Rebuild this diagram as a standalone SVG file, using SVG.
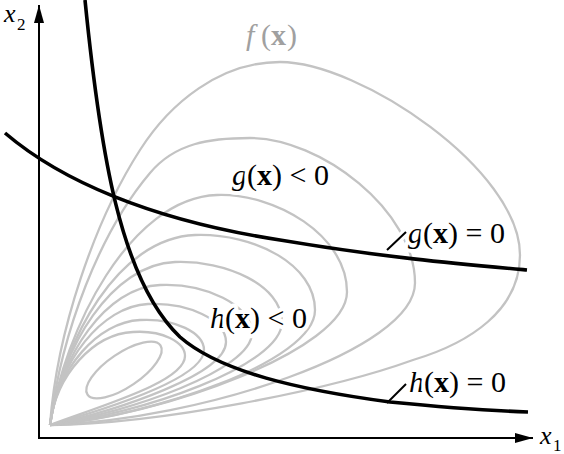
<svg xmlns="http://www.w3.org/2000/svg" width="564" height="454" viewBox="0 0 564 454">
<style>
.ct{fill:none;stroke:#c3c3c3;stroke-width:2.3}
.cv{fill:none;stroke:#000;stroke-width:3.6}
.ax{fill:none;stroke:#000;stroke-width:2}
.ld{fill:none;stroke:#000;stroke-width:2}
.ldh{fill:none;stroke:#fff;stroke-width:8}
.lb{font-family:"Liberation Serif","Times New Roman",serif;font-size:30px;fill:#000;stroke:#fff;stroke-width:8;stroke-linejoin:round;paint-order:stroke}
.axl{font-family:"Liberation Serif","Times New Roman",serif;fill:#000}
.it{font-style:italic}
.bf{font-weight:bold}
</style>
<defs>
<marker id="arr" markerUnits="userSpaceOnUse" markerWidth="18" markerHeight="10" viewBox="0 0 18 10" refX="18" refY="5" orient="auto"><path d="M0,0 L18,5 L0,10 z" fill="#000"/></marker>
</defs>
<rect width="564" height="454" fill="#fff"/>
<g id="contours">
<path id="c1" class="ct" d="M50,425 C57,330 95,220 140,150 C170,103 220,62 280,62 C360,62 520,170 520,255 C520,310 470,343 413,360 C330,390 160,424 50,425"/>
<path id="c2" class="ct" d="M50,425 C62,330 100,232 150,173 C175,143 210,138 250,138 C320,138 415,210 415,283 C415,350 200,420 50,425"/>
<path id="c3" class="ct" d="M50,425 C64,330 130,198 217,195 C275,193 347,235 347,292 C347,350 160,416 50,425"/>
<path id="c4" class="ct" d="M50,425 C63,340 118,238 195,235 C255,233 315,265 315,310 C315,362 150,416 50,425"/>
<path id="c5" class="ct" d="M50,425 C61,348 112,264 175,262 C225,260 282,285 282,322 C282,366 140,414 50,425"/>
<path id="c6" class="ct" d="M50,425 C60,356 106,287 160,285 C205,283 252,305 252,333 C252,370 130,412 50,425"/>
<path id="c7" class="ct" d="M50,425 C58,362 102,306 148,304 C188,302 226,320 226,342 C226,374 120,410 50,425"/>
<path id="c8" class="ct" d="M50,425 C57,368 98,322 140,320 C175,318 204,333 204,350 C204,378 110,408 50,425"/>
<path id="c9" class="ct" d="M50,425 C56,374 94,334 133,332 C162,330 185,342 185,356 C185,382 100,406 50,425"/>
<ellipse id="c10" class="ct" cx="124" cy="370" rx="44" ry="17" transform="rotate(-34 124 370)"/>
</g>
<g id="labels" font-family="Liberation Serif, Times New Roman, serif">
<text id="lbl-f" class="lb" y="45" style="fill:#a0a0a0"><tspan class="it" x="246">f</tspan><tspan x="261">(</tspan><tspan class="bf" x="271">x</tspan><tspan x="287">)</tspan></text>
<text id="lbl-gneg" class="lb" x="232" y="185"><tspan class="it">g</tspan>(<tspan class="bf">x</tspan>) &lt; 0</text>
<text id="lbl-g0" class="lb" x="408" y="243"><tspan class="it">g</tspan>(<tspan class="bf">x</tspan>) = 0</text>
<text id="lbl-hneg" class="lb" x="210" y="328"><tspan class="it">h</tspan>(<tspan class="bf">x</tspan>) &lt; 0</text>
<text id="lbl-h0" class="lb" x="409" y="392"><tspan class="it">h</tspan>(<tspan class="bf">x</tspan>) = 0</text>
</g>
<g id="connectors">
<path class="ldh" d="M387,250 L406,232"/>
<path class="ldh" d="M387,403 L406,384"/>
<path id="curve-g" class="cv" d="M5,133 C60,180 150,220 280,240 C380,257 460,264 527,270"/>
<path id="curve-h" class="cv" d="M85,0 C100,150 120,280 180,337 C220,372 300,390 390,402 C450,408 500,411 528,412"/>
<path id="lead-g" class="ld" d="M387,250 L406,232"/>
<path id="lead-h" class="ld" d="M387,403 L406,384"/>
</g>
<g id="axes">
<path id="axis-y" class="ax" d="M39,439 L39,5" marker-end="url(#arr)"/>
<path id="axis-x" class="ax" d="M38,438 L533,438" marker-end="url(#arr)"/>
<text class="axl" y="22" font-family="Liberation Serif, Times New Roman, serif"><tspan class="it" x="4" font-size="26">x</tspan><tspan x="17" y="30" font-size="17">2</tspan></text>
<text class="axl" y="444" font-family="Liberation Serif, Times New Roman, serif"><tspan class="it" x="540" font-size="26">x</tspan><tspan x="553" y="451" font-size="17">1</tspan></text>
</g>
</svg>
